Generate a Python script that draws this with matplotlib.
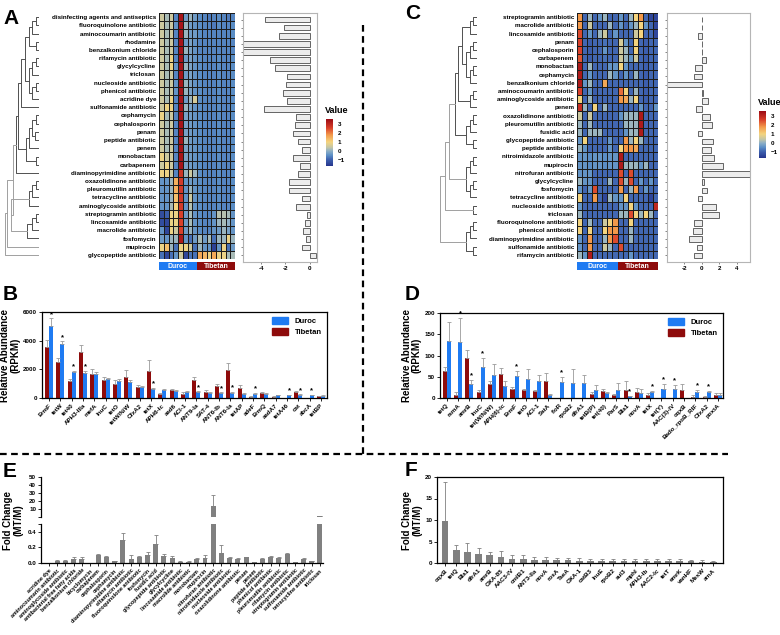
import numpy as np
import matplotlib
matplotlib.use('Agg')
import matplotlib.pyplot as plt
from matplotlib.colors import LinearSegmentedColormap, Normalize
from matplotlib.cm import ScalarMappable
from matplotlib.lines import Line2D

plt.rcParams['font.family'] = ['Liberation Sans', 'DejaVu Sans']
plt.rcParams['font.weight'] = 'bold'
plt.rcParams['axes.labelweight'] = 'bold'

DUROC = '#1f7bf2'
TIBETAN = '#8e0b0b'

# ---------------- panel A data ----------------
rows_a = ['disinfecting agents and antiseptics', 'fluoroquinolone antibiotic', 'aminocoumarin antibiotic',
          'rhodamine', 'benzalkonium chloride', 'rifamycin antibiotic', 'glycylcycline', 'triclosan',
          'nucleoside antibiotic', 'phenicol antibiotic', 'acridine dye', 'sulfonamide antibiotic',
          'cephamycin', 'cephalosporin', 'penam', 'peptide antibiotic', 'penem', 'monobactam',
          'carbapenem', 'diaminopyrimidine antibiotic', 'oxazolidinone antibiotic',
          'pleuromutilin antibiotic', 'tetracycline antibiotic', 'aminoglycoside antibiotic',
          'streptogramin antibiotic', 'lincosamide antibiotic', 'macrolide antibiotic', 'fosfomycin',
          'mupirocin', 'glycopeptide antibiotic']
heat_a = [
    [0.5, 0.2, 0.5, -0.6, 3.4, -0.3, 0.1, -0.3, -0.5, -0.6, -0.7, -0.6, -0.5, -0.6, -0.7, -0.6],
    [0.5, 0.2, 0.5, -0.4, 3.4, 0.1, -0.3, -0.4, -0.5, -0.6, -0.6, -0.7, -0.5, -0.6, -0.6, -0.5],
    [0.5, 0.2, 0.5, -0.6, 3.4, 0.1, -0.3, -0.3, -0.5, -0.6, -0.6, -0.6, -0.6, -0.6, -0.6, -0.5],
    [0.5, 0.2, 0.5, -0.6, 3.4, -0.3, -0.2, -0.4, -0.6, -0.6, -0.6, -0.6, -0.6, -0.6, -0.6, -0.6],
    [0.5, 0.2, 0.5, -0.6, 3.4, 0.1, -0.2, -0.4, -0.6, -0.6, -0.6, -0.6, -0.6, -0.6, -0.6, -0.6],
    [0.5, 0.2, 0.9, -0.6, 3.4, -0.3, -0.2, -0.4, -0.5, -0.6, -0.6, -0.6, -0.5, -0.6, -0.6, -0.5],
    [0.5, 0.2, 0.9, -0.4, 3.4, 0.1, -0.2, -0.4, -0.5, -0.6, -0.6, -0.6, -0.5, -0.6, -0.6, -0.5],
    [0.5, 0.2, 0.5, -0.6, 3.4, -0.3, -0.2, -0.4, -0.5, -0.6, -0.6, -0.6, -0.5, -0.6, -0.6, -0.5],
    [0.5, 0.2, 0.5, -0.4, 3.4, 0.1, -0.2, -0.4, -0.5, -0.6, -0.6, -0.6, -0.5, -0.6, -0.6, -0.5],
    [0.5, 0.2, 0.5, -0.4, 3.4, 0.1, -0.2, -0.4, -0.5, -0.6, -0.6, -0.6, -0.5, -0.6, -0.6, -0.5],
    [0.5, 0.2, 0.9, -0.6, 3.4, -0.3, 0.1, 0.6, -0.5, -0.6, -0.6, -0.6, -0.5, -0.6, -0.6, -0.5],
    [0.5, 0.9, 0.9, -0.6, 3.4, 0.1, -0.2, -0.4, -0.5, -0.6, -0.6, -0.6, -0.5, -0.6, -0.6, -0.5],
    [0.9, 0.2, 0.5, -0.6, 3.4, -0.2, -0.3, -0.4, -0.5, -0.6, -0.6, -0.6, -0.5, -0.6, -0.6, -0.5],
    [0.5, 0.2, 0.5, -0.6, 3.4, -0.2, -0.3, -0.4, -0.5, -0.6, -0.6, -0.6, -0.5, -0.6, -0.6, -0.5],
    [0.5, 0.2, 0.5, -0.6, 3.4, -0.2, -0.3, -0.4, -0.5, -0.6, -0.6, -0.6, -0.5, -0.6, -0.6, -0.5],
    [0.5, 0.2, 0.5, -0.6, 3.4, 0.1, -0.3, -0.4, -0.5, -0.6, -0.6, -0.6, -0.5, -0.6, -0.6, -0.5],
    [0.5, 0.2, 0.5, -0.6, 3.4, -0.2, -0.3, -0.4, -0.5, -0.6, -0.6, -0.6, -0.5, -0.6, -0.6, -0.5],
    [0.9, 0.5, 0.5, -0.6, 3.4, -0.2, -0.3, -0.4, -0.5, -0.6, -0.6, -0.6, -0.5, -0.6, -0.6, -0.5],
    [0.5, 0.9, 0.5, -0.6, 3.4, -0.2, -0.3, -0.4, -0.5, -0.6, -0.6, -0.6, -0.5, -0.6, -0.6, -0.5],
    [0.9, 0.9, 0.5, -0.6, 2.8, 0.1, 0.5, 0.1, -0.5, -0.6, -0.6, -0.6, -0.5, -0.6, -0.6, -0.5],
    [-0.4, -0.4, 0.1, 1.5, 2.7, -0.4, -0.3, -0.4, -0.5, -0.6, -0.6, -0.6, -0.5, -0.6, -0.6, -0.5],
    [-0.4, -0.4, 0.1, 1.5, 2.7, -0.4, 0.1, -0.4, -0.5, -0.6, -0.6, -0.6, -0.5, -0.6, -0.6, -0.5],
    [-0.4, -0.4, 0.1, 1.3, 2.7, -0.4, 0.5, -0.4, -0.5, -0.6, -0.6, -0.6, -0.5, -0.6, -0.6, -0.5],
    [-0.4, -0.4, 0.2, 1.0, 2.7, -0.4, 0.3, -0.4, -0.5, -0.6, -0.6, -0.6, -0.5, -0.6, -0.6, -0.5],
    [-1.3, -1.0, 0.9, 0.9, 2.6, -0.3, 0.2, -0.4, -0.5, -0.6, -0.6, -0.4, 0.3, 0.3, 0.2, -0.4],
    [-1.3, -1.4, 0.9, 0.9, 2.6, -0.3, 0.2, -0.4, -0.5, -0.6, -0.6, -0.4, 0.1, 0.2, 0.0, -0.4],
    [-0.4, -1.4, 0.9, 0.5, 2.6, -0.3, 0.1, -0.4, -0.5, -0.6, -0.6, -0.4, -0.3, 0.1, -0.2, -0.4],
    [-0.3, -0.4, 0.1, 0.1, 3.3, -0.4, -0.8, -0.3, 0.2, -0.3, 0.2, -0.8, 0.1, 0.1, 0.9, 0.1],
    [0.9, 1.3, 0.1, -0.8, 0.9, 0.9, 0.5, -0.8, 0.1, -0.4, -0.4, -1.5, -0.4, 0.9, -0.8, -0.3],
    [-0.8, -1.4, -0.8, -0.4, 0.5, -1.4, -0.8, -0.8, 1.6, 1.4, 0.9, 1.6, 0.9, 0.9, 0.2, 0.2],
]
side_a = [-3.65, -2.13, -2.53, -6.0, -6.0, -3.25, -2.85, -1.87, -1.92, -2.19, -1.87, -3.73,
          -1.17, -1.25, -1.41, -0.99, -0.67, -1.41, -0.80, -0.99, -1.73, -1.73, -0.67, -1.17,
          -0.20, -0.35, -0.53, -0.32, -0.67, 0.55]
# row clustering, nodes are (left, right, merge height)
a_top1 = (((0, 1, 1), 2, 2), (3, 4, 1), 3)
a_top2 = (((5, 6, 1), 7, 2), ((8, 9, 1), 10, 2), 3)
a_top = ((a_top1, a_top2, 4.2), 11, 5.3)
a_mid = ((((12, 13, 1), (14, 15, 1.2), 2), 16, 2.8), (17, 18, 1), 3.8)
a_up = ((a_top, a_mid, 6.0), 19, 6.6)
a_low = ((((20, 21, 1), 22, 2), 23, 3), (((24, 25, 1), 26, 2), 27, 3.5), 8.3)
tree_a = (((a_up, a_low, 7.6), 28, 9.4), 29, 10)

# ---------------- panel C data ----------------
rows_c = ['streptogramin antibiotic', 'macrolide antibiotic', 'lincosamide antibiotic', 'penam',
          'cephalosporin', 'carbapenem', 'monobactam', 'cephamycin', 'benzalkonium chloride',
          'aminocoumarin antibiotic', 'aminoglycoside antibiotic', 'penem', 'oxazolidinone antibiotic',
          'pleuromutilin antibiotic', 'fusidic acid', 'glycopeptide antibiotic', 'peptide antibiotic',
          'nitroimidazole antibiotic', 'mupirocin', 'nitrofuran antibiotic', 'glycylcycline',
          'fosfomycin', 'tetracycline antibiotic', 'nucleoside antibiotic', 'triclosan',
          'fluoroquinolone antibiotic', 'phenicol antibiotic', 'diaminopyrimidine antibiotic',
          'sulfonamide antibiotic', 'rifamycin antibiotic']
heat_c = [
    [1.8, -0.9, 0.1, -0.9, -0.4, 0.1, -0.9, -0.9, -0.4, -0.9, 0.1, 1.0, 1.8, -0.9, -1.4, -1.4],
    [1.8, -0.9, 0.5, -0.9, -0.9, -0.9, 0.1, -0.9, -0.4, -0.9, -0.4, 0.1, 1.0, -0.4, -0.9, -1.4],
    [2.5, -0.9, -0.4, -0.9, 0.1, 0.5, -0.9, -0.4, -0.9, -0.9, -0.9, 0.5, 1.0, -0.9, -0.9, -1.4],
    [2.6, -0.9, -1.0, -0.9, -0.9, -0.8, -0.9, -0.9, 0.6, -0.4, -0.9, 1.0, -0.9, -1.0, -0.9, -0.9],
    [2.6, -0.9, -1.0, -0.9, -0.9, -0.4, -0.9, -0.9, 0.5, 0.1, -0.9, 1.0, -0.9, -1.0, -0.9, -0.9],
    [2.4, -0.9, -1.0, -0.9, -0.9, -0.8, -0.9, -0.9, 0.5, 0.1, -0.4, 0.5, -0.9, -1.0, -0.9, -0.9],
    [3.3, -0.9, 0.1, -0.9, -0.9, -0.9, -0.4, -0.4, 1.0, -0.4, -0.9, -0.9, -0.9, -1.0, -0.9, -0.9],
    [3.3, -0.9, -0.4, -0.9, -0.9, -0.9, 0.1, -0.4, -0.9, -0.4, -0.9, 0.1, -0.9, -1.0, -0.9, -0.9],
    [3.3, -0.4, 0.1, -0.9, -0.9, 1.6, -0.9, -0.9, -0.9, -0.9, -0.9, -0.9, -0.9, -1.0, -0.9, -0.9],
    [2.6, -0.9, -0.4, -1.0, -0.9, -0.9, -0.9, -0.9, 2.2, 1.0, -0.9, 0.1, -0.9, -1.0, -0.9, -0.9],
    [1.0, -0.9, 0.1, -1.0, -0.9, -0.9, -0.9, -0.9, 1.8, 1.6, 0.1, 1.0, -0.9, -1.0, -0.9, -0.9],
    [2.9, 0.1, -0.9, 1.0, -0.9, 0.1, -0.9, -0.9, -0.9, -0.9, -0.9, -0.9, -0.4, -0.9, -0.9, -0.4],
    [0.5, -0.9, 0.5, -0.9, -0.9, -0.9, -0.9, -0.9, -0.4, 0.1, 0.1, 0.1, 3.3, -0.9, -0.9, -0.9],
    [0.1, -0.9, 0.1, -0.9, -0.9, -0.9, -0.9, -0.9, -0.9, 0.1, 0.1, 0.1, 3.3, -0.9, -0.9, -0.9],
    [0.1, -0.9, 0.1, 0.1, 0.1, -0.9, -0.9, -0.9, -0.9, -0.4, 0.1, 0.1, 3.3, -0.9, -0.9, -0.9],
    [-0.4, 1.0, -0.9, -0.9, -0.9, -0.9, -0.4, -0.9, -0.9, 1.8, 0.1, 1.0, 0.1, -0.9, -0.9, -0.9],
    [0.1, -0.4, -0.9, -0.9, -0.9, -0.9, -0.4, -0.9, 1.0, 1.8, 1.8, 1.6, -0.9, -0.9, -0.9, -0.9],
    [-0.4, -0.4, -0.5, -0.4, -0.4, -0.5, -0.4, -0.4, 3.3, -0.9, -0.9, -0.9, -0.9, -0.9, -0.9, -0.9],
    [-0.4, -0.4, -0.5, -0.4, -0.4, -0.5, -0.4, -0.4, 3.3, 0.1, 0.1, 0.1, -0.4, 0.1, -0.9, -0.9],
    [-0.4, -0.4, -0.4, -0.9, -0.9, -0.9, -0.9, -0.9, 2.5, -0.9, 2.5, -0.9, -0.9, -0.9, -0.9, -0.9],
    [0.1, -0.4, -0.4, -0.9, -0.9, -0.9, 0.1, -0.9, 2.5, 0.1, 2.5, -0.9, -0.4, -0.9, -0.4, -0.9],
    [-0.4, -0.9, -0.4, 2.5, -0.9, -0.9, -0.9, -0.9, 1.8, -0.9, 0.1, 1.8, -0.9, -0.4, -0.9, -0.9],
    [1.0, -0.9, -0.9, 1.8, -0.9, -1.4, 0.1, -0.4, -0.4, 1.0, -0.9, -0.9, -0.9, -0.9, -1.4, -0.9],
    [-0.4, -0.9, -0.9, -0.9, -0.9, -0.9, -0.9, -0.9, -0.4, -0.4, 1.0, -0.4, -0.9, -0.9, -0.9, 3.0],
    [0.1, -0.9, -0.9, -0.9, -0.9, -0.9, -0.9, -0.9, 0.1, 0.1, 2.5, 1.0, 0.1, 1.0, 0.1, -0.9],
    [1.0, -0.9, 0.1, -0.9, -0.9, 0.5, 1.0, 1.8, -0.9, -0.9, 1.0, -0.9, -0.9, -0.9, -0.9, -0.9],
    [1.0, -0.9, 1.0, -0.9, -0.9, 1.0, 1.8, 1.8, -0.9, -0.9, 0.1, -0.9, -0.9, -0.9, -0.9, -0.9],
    [-0.4, -0.9, 1.8, -0.9, -0.9, 0.1, 1.8, 2.5, -0.9, -0.9, 0.1, -0.9, -0.9, -0.9, -0.9, -0.9],
    [-0.4, -0.9, 1.8, -0.9, -0.9, 0.5, 0.1, -0.9, 2.5, -0.9, -0.9, -0.9, -0.9, -0.9, -0.9, -0.9],
    [0.1, -0.4, 3.3, -0.9, -0.9, -0.9, -0.9, -0.9, -0.9, -0.9, -0.4, -0.9, -0.9, -0.9, -0.9, -0.9],
]
side_c = [-0.05, -0.05, -0.5, 0.05, 0.03, 0.5, -0.77, -0.88, -4.5, 0.1, 0.65, -0.69, 0.96, 1.15,
          -0.5, 1.27, 1.04, 1.42, 2.42, 7.0, 0.27, 0.58, -0.5, 1.62, 2.0, -0.96, -1.04, -1.46,
          -0.58, -0.96]
c1 = ((0, 1, 1), 2, 2)
c2 = (((3, 4, 1), 5, 2), ((6, 7, 1), 8, 2), 3)
c3 = ((9, 10, 1), 11, 2)
c123 = ((c1, c2, 4), c3, 5)
c4 = (((12, 13, 1), 14, 2), (15, 16, 1), 3)
c5 = (((17, 18, 1), 19, 2), ((20, 21, 1), 22, 2), 3)
c_mid = (((c123, c4, 6), c5, 7.5), (23, 24, 1), 8.5)
c_low = (((25, 26, 1), 27, 2), (28, 29, 1), 3)
tree_c = (c_mid, c_low, 10)

# ---------------- panel B data ----------------
genes_b = ['ErmF', 'tetW', 'tet40', 'APH3-IIIa', 'mefA', 'lnuC', 'tetO', 'tetW/N/W', 'CfxA2', 'tetX',
           'APH6-Ic', 'aad6', 'ACI-1', 'ANT9-Ia', 'SAT-4', 'ANT6-Ib', 'ANT6-Ia', 'tetAP', 'adeF',
           'ErmQ', 'aadA7', 'tetA46', 'cat', 'abcA', 'tetBP']
tib_b = [3550, 2500, 1200, 3200, 1650, 1250, 1000, 1500, 800, 1880, 300, 560, 300, 1250, 450, 850,
         1920, 700, 80, 380, 80, 20, 430, 20, 120]
tib_b_err = [500, 300, 150, 500, 350, 250, 250, 450, 100, 780, 50, 100, 100, 250, 80, 120, 500,
             200, 50, 60, 30, 10, 60, 10, 30]
dur_b = [5000, 3800, 1800, 1750, 1650, 1300, 1200, 1150, 780, 620, 570, 500, 450, 420, 380, 350,
         350, 280, 290, 300, 200, 190, 200, 180, 150]
dur_b_err = [550, 150, 100, 150, 150, 100, 100, 100, 60, 100, 50, 50, 50, 50, 30, 50, 80, 50, 50,
             50, 40, 30, 50, 30, 30]
star_b = [0, 1, 2, 3, 9, 13, 15, 16, 18, 21, 22, 23]

# ---------------- panel D data ----------------
genes_d = ['tetQ', 'rsmA', 'amrB', 'lnuC', 'tet(W/N/W)', 'APH(6)-Ic', 'ErmF', 'tetO', 'ACI-1',
           'SatA', 'floR', 'rpoB2', 'dfrA1', 'tetB(P)', 'tet(40)', 'ParS', 'Bla1', 'novA', 'tetX',
           'tet(Y)', 'AAC(3)-IV', 'oqxB', 'Bado_rpoB_RIF', 'CfxA2', 'poxtA']
tib_d = [64, 8, 94, 15, 33, 56, 22, 19, 17, 41, 0, 0, 0, 10, 17, 6, 20, 13, 8, 0, 0, 20, 3, 3, 8]
tib_d_err = [10, 6, 20, 3, 6, 14, 5, 3, 3, 18, 0, 0, 0, 3, 4, 3, 19, 10, 3, 0, 0, 13, 3, 2, 3]
dur_d = [135, 131, 33, 73, 53, 28, 51, 44, 40, 8, 38, 35, 35, 20, 11, 19, 4, 12, 15, 22, 21, 0,
         15, 14, 8]
dur_d_err = [43, 57, 10, 22, 27, 12, 13, 24, 14, 2, 12, 33, 19, 10, 3, 16, 1, 10, 2, 11, 10, 0,
             4, 3, 3]
star_d = [1, 2, 3, 6, 10, 16, 18, 19, 20, 22, 23]

# ---------------- panel E data ----------------
classes_e = ['acridine dye', 'aminocoumarin antibiotic', 'aminoglycoside antibiotic',
             'antibacterial free fatty acids', 'benzalkonium chloride', 'bicyclomycin', 'carbapenem',
             'cephalosporin', 'cephamycin', 'diaminopyrimidine antibiotic', 'elfamycin antibiotic',
             'fluoroquinolone antibiotic', 'fosfomycin', 'fusidic acid', 'glycopeptide antibiotic',
             'glycylcycline', 'lincosamide antibiotic', 'macrolide antibiotic', 'monobactam',
             'mupirocin', 'nitrofuran antibiotic', 'nitroimidazole antibiotic', 'nucleoside antibiotic',
             'oxazolidinone antibiotic', 'penam', 'penem', 'peptide antibiotic', 'phenicol antibiotic',
             'pleuromutilin antibiotic', 'rifamycin antibiotic', 'streptogramin antibiotic',
             'sulfonamide antibiotic', 'tetracycline antibiotic', 'triclosan']
fc_e = [0, 0.03, 0.03, 0.045, 0.045, 0, 0.1, 0.075, 0.025, 0.29, 0.055, 0.075, 0.105, 0.24, 0.09,
        0.065, 0.018, 0.018, 0.055, 0.07, 14.0, 0.125, 0.065, 0.05, 0.075, 0.015, 0.05, 0.075, 0.06,
        0.11, 0.015, 0.055, 0.025, 1.2]
fc_e_err = [0, 0.01, 0.005, 0.03, 0.03, 0, 0.015, 0.015, 0.003, 0.1, 0.05, 0.015, 0.04, 0.125,
            0.02, 0.02, 0.004, 0.004, 0.01, 0.03, 13.5, 0.1, 0.015, 0.015, 0.008, 0.003, 0.008,
            0.015, 0.02, 0.02, 0.003, 0.015, 0.003, 0.4]

# ---------------- panel F data ----------------
genes_f = ['oqxB', 'tetQ', 'Bla1', 'dfrA1', 'amrB', 'OXA-85', 'AAC3-IV', 'cmlB1', 'ANT3-IIa', 'novA',
           'rosA', 'TaeA', 'OXA-1', 'catB3', 'lnuE', 'rpoB2', 'sul3', 'mphI', 'APH3-Ib', 'AAC2-Ic',
           'tetT', 'emrK', 'vanHF', 'MexW', 'arnA']
fc_f = [9.8, 3.0, 2.6, 2.0, 1.9, 1.5, 1.0, 0.9, 0.8, 0.7, 0.6, 0.6, 0.55, 0.5, 0.45, 0.45, 0.45,
        0.45, 0.4, 0.4, 0.4, 0.4, 0.35, 0.3, 0.3]
fc_f_err = [9.1, 1.1, 2.1, 1.4, 0.7, 1.4, 0.8, 1.0, 0.7, 0.6, 0.6, 0.6, 0.7, 0.5, 0.55, 0.45, 0.5,
            0.5, 0.6, 0.6, 0.45, 0.6, 0.45, 0.5, 0.2]

W, H = 780, 635
fig = plt.figure(figsize=(7.8, 6.35), dpi=100)


def px_axes(x0, y0, x1, y1):
    return fig.add_axes([x0 / W, 1 - y1 / H, (x1 - x0) / W, (y1 - y0) / H])


vmin, vmax = -1.7, 3.6
stops = [(-1.7, '#26358c'), (-1.0, '#3c5fae'), (-0.5, '#5b8ec6'), (0.0, '#8fb0c6'),
         (0.4, '#c4c6a6'), (1.0, '#f4d47e'), (1.8, '#f39a4b'), (2.6, '#d9402a'), (3.6, '#9b0a14')]
cmap = LinearSegmentedColormap.from_list('val', [((v - vmin) / (vmax - vmin), c) for v, c in stops])
norm = Normalize(vmin, vmax)


def draw_tree(ax, node):
    if isinstance(node, int):
        return node + 0.5, 0.0
    left, right, h = node
    yl, hl = draw_tree(ax, left)
    yr, hr = draw_tree(ax, right)
    col = '#a0a0a0' if h >= 7.5 else '#505050'
    ax.plot([hl, h, h, hr], [yl, yl, yr, yr], color=col, lw=0.7)
    return (yl + yr) / 2, h


def heat_panel(mat, rows, side, tree, hx, tx, bx, bxlim, bticks, cx, letter, lpos):
    mat = np.array(mat)
    n, m = mat.shape
    ax = px_axes(hx[0], 13, hx[1], 259)
    ax.pcolormesh(mat, cmap=cmap, norm=norm, edgecolors='#1c1c1c', linewidth=0.5)
    ax.set_xlim(0, m)
    ax.set_ylim(n, 0)
    ax.set_xticks([])
    ax.set_yticks(np.arange(n) + 0.5)
    ax.set_yticklabels(rows, fontsize=4.5)
    ax.tick_params(axis='y', length=0, pad=2)
    for s in ax.spines.values():
        s.set_visible(False)

    # group strip
    gx = px_axes(hx[0], 262, hx[1], 270)
    gx.bar([m / 4, 3 * m / 4], [1, 1], width=m / 2, color=[DUROC, TIBETAN])
    gx.text(m / 4, 0.45, 'Duroc', color='white', fontsize=5, ha='center', va='center')
    gx.text(3 * m / 4, 0.45, 'Tibetan', color='white', fontsize=5, ha='center', va='center')
    gx.set_xlim(0, m)
    gx.set_ylim(0, 1)
    gx.axis('off')

    # dendrogram
    dx = px_axes(tx[0], 13, tx[1], 259)
    draw_tree(dx, tree)
    dx.set_xlim(10.2, 0)
    dx.set_ylim(n, 0)
    dx.axis('off')

    # side bars
    sx = px_axes(bx[0], 13, bx[1], 262)
    sx.barh(np.arange(n) + 0.5, side, height=0.7, color='#ececec', edgecolor='#4d4d4d', lw=0.6)
    sx.set_xlim(*bxlim)
    sx.set_ylim(n + 0.3, -0.3)
    sx.set_yticks(np.arange(n) + 0.5)
    sx.set_yticklabels([])
    sx.set_xticks(bticks)
    sx.set_xticklabels([str(t) for t in bticks], fontsize=4.5)
    sx.tick_params(length=1.5, width=0.5, color='#555555', pad=1.5)
    for s in sx.spines.values():
        s.set_color('#b5b5b5')
        s.set_linewidth(0.8)

    # colorbar
    cax = px_axes(cx[0], cx[1], cx[0] + 7, cx[1] + 47)
    cb = fig.colorbar(ScalarMappable(norm=norm, cmap=cmap), cax=cax, ticks=[-1, 0, 1, 2, 3])
    cb.outline.set_visible(False)
    cb.ax.tick_params(labelsize=4.5, length=1.5, color='white', pad=2)
    fig.text((cx[0] - 1) / W, 1 - (cx[1] - 4) / H, 'Value', fontsize=6.5, va='bottom')

    fig.text(lpos[0] / W, 1 - lpos[1] / H, letter, fontsize=15, va='top')


heat_panel(heat_a, rows_a, side_a, tree_a, (159, 235), (4, 39), (243, 317), (-5.5, 0.6),
           [-4, -2, 0], (326, 119), 'A', (3, 9))
heat_panel(heat_c, rows_c, side_c, tree_c, (577, 658), (439, 477), (667, 750), (-4.0, 5.5),
           [-2, 0, 2, 4], (759, 111), 'C', (405, 4))


def style_axes(ax, box=True):
    for s in ['top', 'right']:
        ax.spines[s].set_visible(box)
    for s in ax.spines.values():
        s.set_linewidth(0.9)
    ax.tick_params(length=2, width=0.6, pad=1.5, labelsize=4.5)


def pair_bars(ax, genes, tib, tib_err, dur, dur_err, stars, ymax, yticks, xlim):
    x = np.arange(len(genes))
    w = 0.36
    ekw = dict(ecolor='#9a9a9a', lw=0.6, capsize=1.2, capthick=0.6)
    ax.bar(x - w / 2, tib, w, yerr=[np.zeros(len(x)), tib_err], color=TIBETAN, error_kw=ekw)
    ax.bar(x + w / 2, dur, w, yerr=[np.zeros(len(x)), dur_err], color=DUROC, error_kw=ekw)
    for i in stars:
        ax.text(x[i] + w / 2, dur[i] + dur_err[i] + ymax * 0.005, '*', ha='center', va='bottom',
                fontsize=5.5)
    ax.set_xlim(*xlim)
    ax.set_ylim(0, ymax)
    ax.set_yticks(yticks)
    ax.set_xticks(x)
    ax.set_xticklabels(genes, rotation=45, ha='right', rotation_mode='anchor', fontsize=4.3)
    ax.set_ylabel('Relative Abundance\n(RPKM)', fontsize=7, labelpad=2, linespacing=1.0)
    style_axes(ax)
    handles = [plt.Rectangle((0, 0), 1, 1, color=DUROC), plt.Rectangle((0, 0), 1, 1, color=TIBETAN)]
    ax.legend(handles, ['Duroc', 'Tibetan'], loc='upper right', frameon=False, fontsize=5.5,
              handlelength=2.2, handleheight=0.9, borderaxespad=0.3, labelspacing=0.4)


axb = px_axes(42, 312, 327, 398)
pair_bars(axb, genes_b, tib_b, tib_b_err, dur_b, dur_b_err, star_b, 6000, [0, 2000, 4000, 6000],
          (-0.62, 24.53))
fig.text(3 / W, 1 - 285 / H, 'B', fontsize=15, va='top')

axd = px_axes(440, 313, 723, 398)
pair_bars(axd, genes_d, tib_d, tib_d_err, dur_d, dur_d_err, star_d, 200, [0, 50, 100, 150, 200],
          (-0.59, 24.44))
fig.text(405 / W, 1 - 285 / H, 'D', fontsize=15, va='top')

# ---------------- panel E (broken axis) ----------------
GRAY = '#808080'
xe = np.arange(len(classes_e))
fe = np.array(fc_e)
fe_err = np.array(fc_e_err)
ekw_e = dict(ecolor=GRAY, lw=0.6, capsize=1.2, capthick=0.6)
axet = px_axes(41, 477, 323, 517)
axeb = px_axes(41, 524, 323, 563)
big = fe > 0.5
axet.bar(xe[big], fe[big], 0.6, yerr=[np.zeros(big.sum()), fe_err[big]], color=GRAY,
         error_kw=ekw_e)
axeb.bar(xe, fe, 0.6, yerr=[np.zeros(len(xe)), fe_err], color=GRAY, error_kw=ekw_e)
for a in (axet, axeb):
    a.set_xlim(-0.97, 33.37)
    style_axes(a, box=False)
axet.set_ylim(0.5, 50)
axet.set_yticks([0.5, 10, 20, 30, 40, 50])
axet.set_yticklabels(['', '10', '20', '30', '40', '50'])
axet.spines['bottom'].set_visible(False)
axet.set_xticks([])
axeb.set_ylim(0, 0.5)
axeb.set_yticks([0, 0.2, 0.4, 0.5])
axeb.set_yticklabels(['0.0', '0.2', '0.4', ''])
axeb.set_xticks(xe)
axeb.set_xticklabels(classes_e, rotation=45, ha='right', rotation_mode='anchor', fontsize=3.9)
fig.text(13 / W, 1 - 520 / H, 'Fold Change\n(MT/M)', fontsize=7, rotation=90, ha='center',
         va='center', linespacing=1.0)
fig.text(3 / W, 1 - 462 / H, 'E', fontsize=15, va='top')

# ---------------- panel F ----------------
axf = px_axes(437, 477, 723, 563)
xf = np.arange(len(genes_f))
axf.bar(xf, fc_f, 0.6, yerr=[np.zeros(len(xf)), fc_f_err], color=GRAY, error_kw=ekw_e)
axf.set_xlim(-0.72, 24.87)
axf.set_ylim(0, 20)
axf.set_yticks([0, 5, 10, 15, 20])
axf.set_xticks(xf)
axf.set_xticklabels(genes_f, rotation=45, ha='right', rotation_mode='anchor', fontsize=4.3)
axf.set_ylabel('Fold Change\n(MT/M)', fontsize=7, labelpad=2, linespacing=1.0)
style_axes(axf)
fig.text(405 / W, 1 - 461 / H, 'F', fontsize=15, va='top')

# dashed separators
fig.add_artist(Line2D([363 / W, 363 / W], [1 - 25 / H, 1 - 454 / H], color='black', lw=1.6,
                      linestyle=(0, (3, 2))))
fig.add_artist(Line2D([0, 728 / W], [1 - 454 / H, 1 - 454 / H], color='black', lw=1.6,
                      linestyle=(0, (3, 2))))

fig.savefig('out.png', dpi=100)
